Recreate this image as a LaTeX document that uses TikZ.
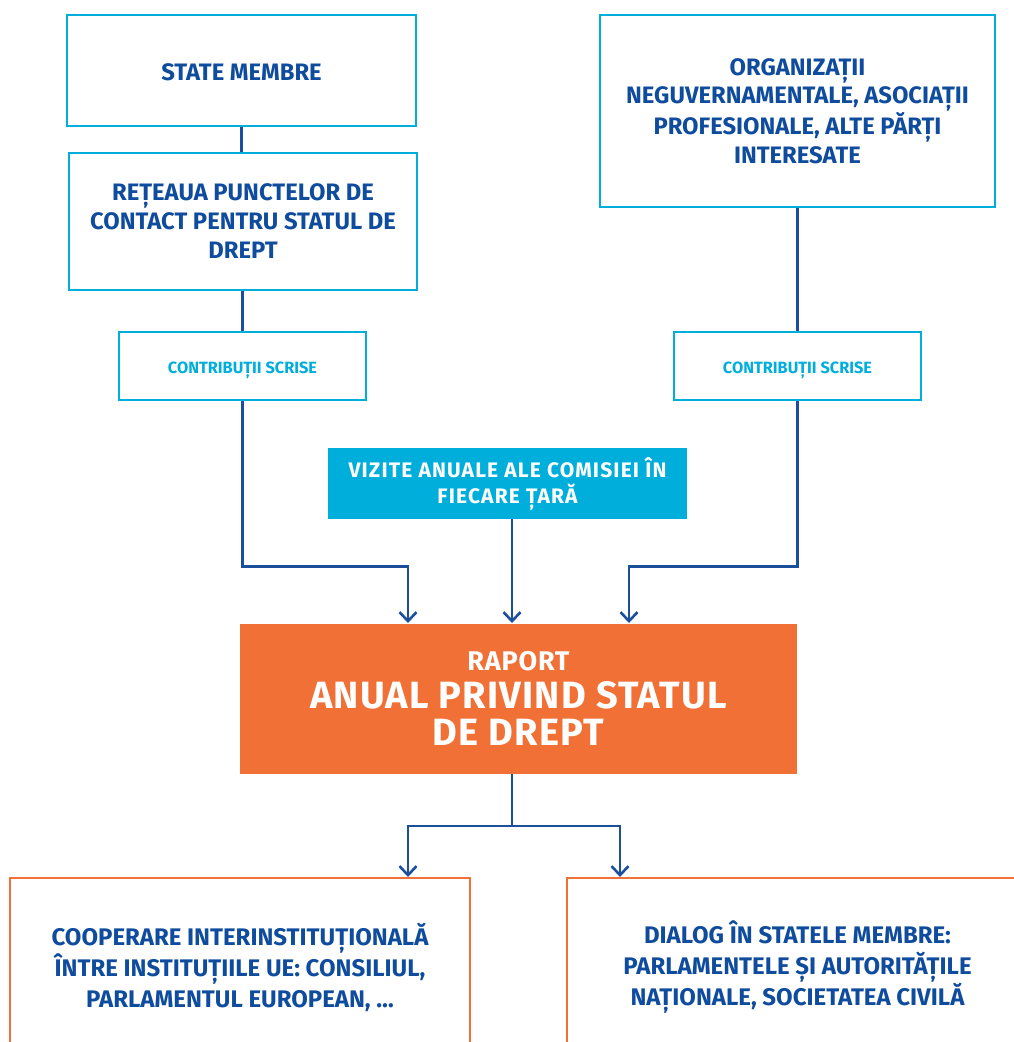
\documentclass[tikz,border=0pt]{standalone}
\usepackage{fontspec}
\setmainfont{Fira Sans}
\usetikzlibrary{arrows.meta,calc}
\definecolor{eublue}{HTML}{0F4C9E}
\definecolor{lineblue}{HTML}{1B4F9C}
\definecolor{eucyan}{HTML}{00AEDB}
\definecolor{euorange}{HTML}{F07036}
\tikzset{
  cbox/.style={draw=eucyan, line width=2.6pt, inner sep=0pt, align=center,
     text=eublue, font=\fontsize{23.8}{29}\selectfont\bfseries},
  contrib/.style={draw=eucyan, line width=2.6pt, inner sep=0pt, align=center,
     text=eucyan, font=\fontsize{16.3}{20}\selectfont\bfseries,
     text height=14.5pt, text depth=0pt},
  obox/.style={draw=euorange, line width=2pt, inner sep=0pt, align=center,
     text=eublue, font=\fontsize{24}{31}\selectfont\bfseries},
  conn/.style={draw=lineblue, line width=2.6pt},
  arr/.style={conn, -{Straight Barb[length=9pt,width=17pt,line width=2.6pt]}},
}
\begin{document}
\begin{tikzpicture}[x=1pt,y=-1pt]
\useasboundingbox (0,0) rectangle (1014,1042);
% top-left boxes
\node[cbox, minimum width=349, minimum height=111, text height=19.4pt, text depth=0pt]
  (sm) at (241.5,70.5) {STATE MEMBRE};
\node[cbox, minimum width=348, minimum height=137] (ret) at (243,221.5)
  {REȚEAUA PUNCTELOR DE\\CONTACT PENTRU STATUL DE\\DREPT};
\node[contrib, minimum width=247, minimum height=68] (cl) at (242.5,366) {CONTRIBUȚII SCRISE};
% top-right boxes
\node[cbox, minimum width=395, minimum height=192, font=\fontsize{23.8}{28.5}\selectfont\bfseries]
  (org) at (797.5,111)
  {ORGANIZAȚII\\NEGUVERNAMENTALE, ASOCIAȚII\\PROFESIONALE, ALTE PĂRȚI\\INTERESATE};
\node[contrib, minimum width=247, minimum height=68] (cr) at (797.5,366) {CONTRIBUȚII SCRISE};
% visits
\node[fill=eucyan, inner sep=0pt, minimum width=359, minimum height=71, align=center,
  text=white, font=\fontsize{21}{26}\selectfont\bfseries\addfontfeatures{LetterSpace=5.5}]
  (viz) at (507.5,483.5) {VIZITE ANUALE ALE COMISIEI ÎN\\FIECARE ȚARĂ};
% report
\node[fill=euorange, inner sep=0pt, minimum width=557, minimum height=150, align=center,
  text=white, font=\fontsize{38}{37}\selectfont\bfseries\addfontfeatures{LetterSpace=3}]
  (rep) at (518.5,698.5)
  {{\fontsize{27}{30}\selectfont RAPORT}\\[1pt]ANUAL PRIVIND STATUL\\DE DREPT};
% bottom boxes (open at the bottom: they run past the page)
\node[obox, minimum width=460, minimum height=178] (bl) at (240,967)
  {COOPERARE INTERINSTITUȚIONALĂ\\ÎNTRE INSTITUȚIILE UE: CONSILIUL,\\PARLAMENTUL EUROPEAN, …};
\node[obox, minimum width=461, minimum height=178] (br) at (797.5,967)
  {DIALOG ÎN STATELE MEMBRE:\\PARLAMENTELE ȘI AUTORITĂȚILE\\NAȚIONALE, SOCIETATEA CIVILĂ};
% connectors
\draw[conn] (sm.south) -- (sm.south |- ret.north);
\draw[conn] (cl.north |- ret.south) -- (cl.north);
\draw[conn] (org.south) -- (cr.north);
\coordinate (a1) at (408,623);
\coordinate (a2) at (512,623);
\coordinate (a3) at (629,623);
\draw[arr] (cl.south) -- ++(0,165) -| (a1);
\draw[arr] (viz.south -| a2) -- (a2);
\draw[arr] (cr.south) -- ++(0,165) -| (a3);
\coordinate (j) at (512,826);
\coordinate (b1) at (408,877);
\coordinate (b2) at (620,877);
\draw[conn] (rep.south -| j) -- (j);
\draw[arr] (j) -| (b1);
\draw[arr] (j) -| (b2);
\end{tikzpicture}
\end{document}
